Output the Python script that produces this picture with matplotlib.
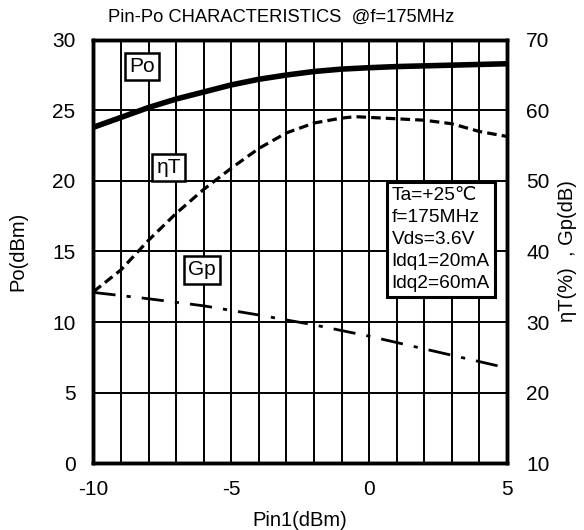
import numpy as np
import matplotlib.pyplot as plt

plt.rcParams['font.family'] = ['Liberation Sans', 'DejaVu Sans']
plt.rcParams['axes.unicode_minus'] = False

# Output power vs input power (left axis, dBm)
pin_po = [-10, -9, -8, -7, -6, -5, -4, -3, -2, -1, 0, 1, 2, 3, 4, 5]
po = [23.8, 24.5, 25.2, 25.8, 26.3, 26.8, 27.2, 27.5, 27.75, 27.92, 28.02, 28.1, 28.15, 28.2, 28.25, 28.3]

# Total efficiency (right axis, %)
pin_eff = [-10, -9, -8, -7, -6, -5, -4, -3, -2, -1, -0.5, 0, 1, 2, 3, 4, 5]
eta = [34.3, 37.4, 41.6, 45.4, 48.8, 51.8, 54.6, 56.8, 58.2, 58.9, 59.1, 59.0, 58.8, 58.6, 58.1, 57.0, 56.3]

# Power gain (right axis, dB)
pin_gp = [-10, -8, -6, -4, -2, 0, 2, 4, 5]
gp = [34.2, 33.3, 32.3, 31.0, 29.6, 28.0, 26.2, 24.4, 23.5]

conditions = "Ta=+25\u2103\nf=175MHz\nVds=3.6V\nIdq1=20mA\nIdq2=60mA"

fig = plt.figure(figsize=(5.84, 5.30), dpi=100)
ax = fig.add_axes([0.160, 0.126, 0.708, 0.799])
ax2 = ax.twinx()

ax.set_xlim(-10, 5)
ax.set_ylim(0, 30)
ax2.set_ylim(10, 70)

ax.set_xticks([-10, -5, 0, 5])
ax.set_yticks(range(0, 31, 5))
ax2.set_yticks(range(10, 71, 10))

# grid
for x in range(-9, 5):
    ax.axvline(x, color='black', lw=1.4, zorder=1)
for y in range(5, 30, 5):
    ax.axhline(y, color='black', lw=1.4, zorder=1)

ax.tick_params(axis='y', length=0, labelsize=15, pad=13)
ax.tick_params(axis='x', length=0, labelsize=15, pad=12)
ax2.tick_params(length=0, labelsize=15, pad=14)
for a in (ax, ax2):
    for s in a.spines.values():
        s.set_linewidth(2.5)

ax.plot(pin_po, po, color='black', lw=4, solid_capstyle='butt', zorder=3)
ax2.plot(pin_eff, eta, color='black', lw=2.3, ls=(0, (3, 1.6)), zorder=3)
ax2.plot(pin_gp, gp, color='black', lw=2.0, ls=(0, (8, 4, 1.5, 4)), zorder=3)

box = dict(boxstyle='square,pad=0.2', fc='white', ec='black', lw=1.8)
ax.text(-8.23, 28.1, "Po", fontsize=15, ha='center', va='center', bbox=box, zorder=5)
ax.text(-7.27, 20.95, "\u03b7T", fontsize=15, ha='center', va='center', bbox=box, zorder=5)
ax.text(-6.07, 13.7, "Gp", fontsize=15, ha='center', va='center', bbox=box, zorder=5)

ax.text(0.82, 19.55, conditions, fontsize=13.8, ha='left', va='top', linespacing=1.38,
        bbox=dict(boxstyle='square,pad=0.25', fc='white', ec='black', lw=2.2), zorder=5)

fig.text(281 / 584, 1 - 17 / 530, "Pin-Po CHARACTERISTICS  @f=175MHz",
         fontsize=13.2, ha='center', va='center')
ax.set_xlabel("Pin1(dBm)", fontsize=14.5, labelpad=9)
ax.set_ylabel("Po(dBm)", fontsize=14.5, labelpad=18)
ax2.set_ylabel("\u03b7T(%)  , Gp(dB)", fontsize=14.5, labelpad=6)

fig.savefig("out.png", dpi=100)
